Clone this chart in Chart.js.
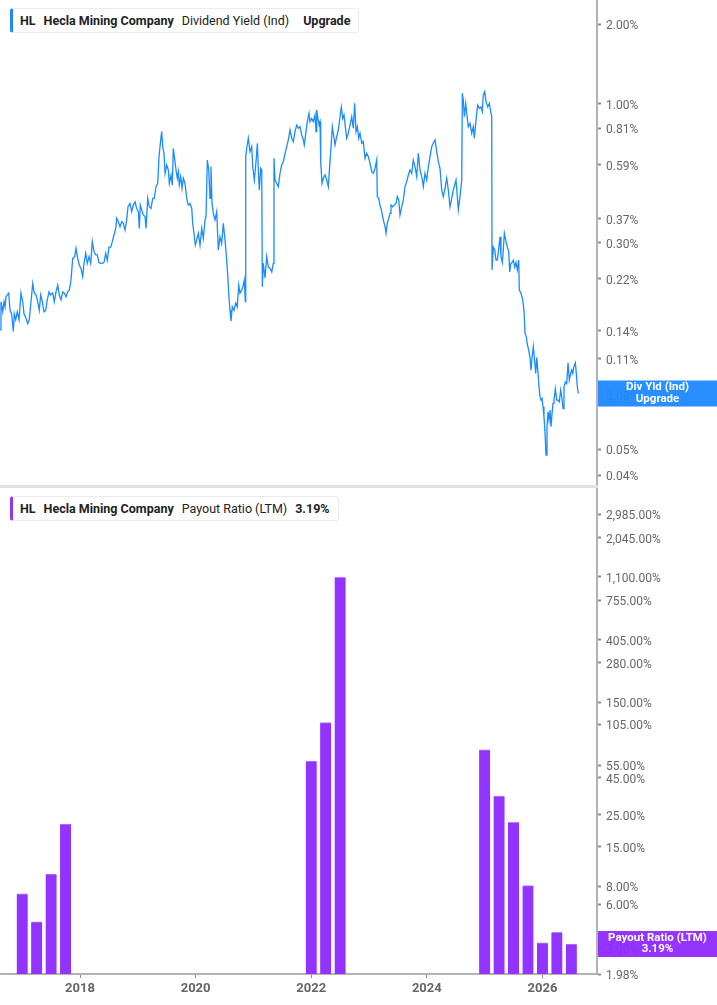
<!DOCTYPE html>
<html>
<head>
<meta charset="utf-8">
<script src="https://cdn.jsdelivr.net/npm/chart.js@4.4.1/dist/chart.umd.min.js"></script>
<style>
  body { margin: 0; background: #fff; font-family: Roboto, sans-serif; }
  #wrap { position: relative; width: 717px; height: 1005px; overflow: hidden; }
  canvas { position: absolute; left: 0; }
  #yieldChart { top: 0; }
  #payoutChart { top: 487px; }
  .sep { position: absolute; left: 0; top: 485px; width: 598px; height: 3px; background: #e2e2e2; }
  .legend {
    position: absolute; left: 10px; height: 23px; display: flex; align-items: center;
    padding: 0 8px 0 7px; border: 1px solid #ececec; border-left: 3px solid; border-radius: 3px;
    background: #fff; font-size: 12.5px; color: #222; white-space: nowrap;
  }
  .legend b { font-weight: 700; }
  .legend .g { margin-left: 8px; }
  .legend .g2 { margin-left: 14px; }
</style>
</head>
<body>
<div id="wrap">
  <canvas id="yieldChart" width="717" height="487"></canvas>
  <canvas id="payoutChart" width="717" height="518"></canvas>
  <div class="sep"></div>
  <div class="legend" style="top:8px; border-left-color:#1e88ff;">
    <b>HL</b><b class="g">Hecla Mining Company</b><span class="g">Dividend Yield (Ind)</span><b class="g2">Upgrade</b>
  </div>
  <div class="legend" style="top:496px; border-left-color:#9333ff;">
    <b>HL</b><b class="g">Hecla Mining Company</b><span class="g">Payout Ratio (LTM)</span><b class="g">3.19%</b>
  </div>
</div>
<script>
// dividend yield (%) - dates as decimal years
const divYears = [
  2016.616, 2016.633, 2016.663, 2016.685, 2016.703, 2016.720, 2016.742, 2016.767, 2016.789, 2016.818,
  2016.846, 2016.863, 2016.888, 2016.915, 2016.945, 2016.979, 2017.009, 2017.031, 2017.066, 2017.095,
  2017.123, 2017.152, 2017.182, 2017.209, 2017.239, 2017.268, 2017.296, 2017.320, 2017.348, 2017.377,
  2017.407, 2017.434, 2017.464, 2017.493, 2017.528, 2017.555, 2017.585, 2017.614, 2017.642, 2017.671,
  2017.701, 2017.728, 2017.758, 2017.787, 2017.815, 2017.844, 2017.874, 2017.908, 2017.931, 2017.960,
  2017.988, 2018.017, 2018.047, 2018.069, 2018.099, 2018.126, 2018.156, 2018.185, 2018.213, 2018.242,
  2018.272, 2018.299, 2018.329, 2018.358, 2018.386, 2018.415, 2018.445, 2018.472, 2018.502, 2018.531,
  2018.559, 2018.588, 2018.618, 2018.635, 2018.663, 2018.692, 2018.722, 2018.749, 2018.779, 2018.808,
  2018.830, 2018.865, 2018.894, 2018.922, 2018.952, 2018.981, 2019.009, 2019.026, 2019.043, 2019.067,
  2019.095, 2019.125, 2019.142, 2019.171, 2019.199, 2019.228, 2019.258, 2019.285, 2019.315, 2019.344,
  2019.367, 2019.396, 2019.413, 2019.431, 2019.453, 2019.471, 2019.500, 2019.528, 2019.545, 2019.574,
  2019.597, 2019.614, 2019.632, 2019.661, 2019.683, 2019.701, 2019.718, 2019.742, 2019.765, 2019.787,
  2019.817, 2019.846, 2019.874, 2019.903, 2019.933, 2019.950, 2019.972, 2019.995, 2020.019, 2020.047,
  2020.076, 2020.106, 2020.133, 2020.163, 2020.180, 2020.203, 2020.227, 2020.249, 2020.266, 2020.284,
  2020.306, 2020.336, 2020.365, 2020.393, 2020.422, 2020.451, 2020.479, 2020.509, 2020.538, 2020.555,
  2020.578, 2020.595, 2020.612, 2020.635, 2020.664, 2020.694, 2020.721, 2020.746, 2020.768, 2020.798,
  2020.825, 2020.843, 2020.860, 2020.867, 2020.884, 2020.912, 2020.941, 2020.971, 2020.988, 2021.016,
  2021.045, 2021.068, 2021.085, 2021.102, 2021.126, 2021.144, 2021.154, 2021.171, 2021.201, 2021.230,
  2021.258, 2021.287, 2021.317, 2021.344, 2021.356, 2021.374, 2021.403, 2021.431, 2021.460, 2021.489,
  2021.517, 2021.547, 2021.576, 2021.604, 2021.633, 2021.663, 2021.690, 2021.720, 2021.749, 2021.777,
  2021.806, 2021.836, 2021.863, 2021.880, 2021.910, 2021.932, 2021.962, 2021.979, 2022.008, 2022.036,
  2022.066, 2022.083, 2022.095, 2022.112, 2022.135, 2022.152, 2022.164, 2022.187, 2022.209, 2022.239,
  2022.268, 2022.296, 2022.313, 2022.337, 2022.365, 2022.382, 2022.412, 2022.441, 2022.469, 2022.498,
  2022.521, 2022.545, 2022.567, 2022.590, 2022.614, 2022.642, 2022.671, 2022.701, 2022.728, 2022.752,
  2022.775, 2022.797, 2022.822, 2022.844, 2022.874, 2022.901, 2022.931, 2022.960, 2022.988, 2023.017,
  2023.047, 2023.074, 2023.104, 2023.133, 2023.143, 2023.168, 2023.190, 2023.220, 2023.247, 2023.277,
  2023.294, 2023.316, 2023.341, 2023.363, 2023.380, 2023.410, 2023.437, 2023.467, 2023.489, 2023.514,
  2023.536, 2023.565, 2023.593, 2023.623, 2023.652, 2023.680, 2023.709, 2023.739, 2023.766, 2023.796,
  2023.825, 2023.853, 2023.882, 2023.912, 2023.939, 2023.969, 2023.998, 2024.026, 2024.055, 2024.085,
  2024.112, 2024.142, 2024.171, 2024.199, 2024.228, 2024.258, 2024.285, 2024.315, 2024.344, 2024.372,
  2024.401, 2024.458, 2024.505, 2024.545, 2024.574, 2024.604, 2024.614, 2024.631, 2024.649, 2024.673,
  2024.690, 2024.718, 2024.747, 2024.777, 2024.804, 2024.821, 2024.846, 2024.863, 2024.880, 2024.908,
  2024.937, 2024.960, 2024.977, 2025.001, 2025.024, 2025.053, 2025.081, 2025.105, 2025.123, 2025.128,
  2025.150, 2025.175, 2025.197, 2025.220, 2025.244, 2025.266, 2025.283, 2025.306, 2025.323, 2025.341,
  2025.365, 2025.393, 2025.417, 2025.434, 2025.452, 2025.474, 2025.497, 2025.521, 2025.543, 2025.566,
  2025.590, 2025.600, 2025.629, 2025.659, 2025.681, 2025.699, 2025.721, 2025.738, 2025.763, 2025.785,
  2025.803, 2025.820, 2025.843, 2025.867, 2025.884, 2025.901, 2025.924, 2025.941, 2025.958, 2025.976,
  2025.993, 2026.010, 2026.027, 2026.045, 2026.062, 2026.079, 2026.097, 2026.114, 2026.131, 2026.149,
  2026.166, 2026.183, 2026.200, 2026.223, 2026.247, 2026.269, 2026.292, 2026.316, 2026.334, 2026.356,
  2026.373, 2026.396, 2026.420, 2026.443, 2026.465, 2026.489, 2026.507, 2026.524, 2026.546, 2026.569,
  2026.586, 2026.603, 2026.621
];
const divYield = [
  0.141, 0.180, 0.165, 0.180, 0.172, 0.188, 0.191, 0.194, 0.167, 0.162,
  0.139, 0.162, 0.154, 0.165, 0.154, 0.194, 0.180, 0.162, 0.156, 0.149,
  0.154, 0.180, 0.211, 0.194, 0.191, 0.180, 0.167, 0.191, 0.180, 0.165,
  0.167, 0.183, 0.196, 0.191, 0.194, 0.180, 0.196, 0.208, 0.191, 0.183,
  0.196, 0.194, 0.188, 0.196, 0.199, 0.217, 0.262, 0.266, 0.286, 0.262,
  0.247, 0.240, 0.224, 0.251, 0.274, 0.251, 0.266, 0.251, 0.303, 0.278,
  0.270, 0.270, 0.253, 0.251, 0.251, 0.253, 0.274, 0.258, 0.289, 0.289,
  0.303, 0.321, 0.340, 0.371, 0.360, 0.345, 0.360, 0.355, 0.335, 0.366,
  0.410, 0.422, 0.393, 0.416, 0.428, 0.404, 0.393, 0.340, 0.416, 0.399,
  0.382, 0.377, 0.340, 0.441, 0.410, 0.404, 0.441, 0.441, 0.488, 0.502,
  0.633, 0.732, 0.787, 0.691, 0.652, 0.548, 0.589, 0.564, 0.502, 0.540,
  0.495, 0.681, 0.633, 0.564, 0.525, 0.556, 0.495, 0.533, 0.481, 0.525,
  0.502, 0.441, 0.416, 0.422, 0.404, 0.355, 0.326, 0.294, 0.307, 0.326,
  0.294, 0.340, 0.312, 0.366, 0.377, 0.615, 0.564, 0.441, 0.580, 0.422,
  0.387, 0.366, 0.393, 0.282, 0.316, 0.298, 0.355, 0.307, 0.258, 0.227,
  0.186, 0.167, 0.152, 0.172, 0.167, 0.178, 0.172, 0.208, 0.194, 0.199,
  0.208, 0.217, 0.180, 0.633, 0.681, 0.743, 0.661, 0.691, 0.580, 0.517,
  0.606, 0.711, 0.564, 0.474, 0.572, 0.564, 0.205, 0.251, 0.221, 0.266,
  0.243, 0.240, 0.233, 0.251, 0.624, 0.517, 0.502, 0.488, 0.548, 0.589,
  0.606, 0.652, 0.691, 0.732, 0.798, 0.743, 0.722, 0.787, 0.833, 0.810,
  0.821, 0.764, 0.732, 0.701, 0.787, 0.857, 0.922, 0.857, 0.882, 0.857,
  0.909, 0.787, 0.949, 0.895, 0.833, 0.857, 0.606, 0.502, 0.525, 0.540,
  0.517, 0.488, 0.556, 0.661, 0.821, 0.776, 0.701, 0.753, 0.798, 0.895,
  0.974, 0.882, 0.909, 0.821, 0.743, 0.776, 0.833, 0.895, 0.810, 1.005,
  0.787, 0.821, 0.743, 0.776, 0.711, 0.722, 0.624, 0.652, 0.633, 0.597,
  0.556, 0.548, 0.572, 0.615, 0.448, 0.441, 0.416, 0.393, 0.366, 0.345,
  0.326, 0.355, 0.371, 0.387, 0.416, 0.410, 0.416, 0.422, 0.448, 0.435,
  0.382, 0.410, 0.435, 0.488, 0.510, 0.540, 0.564, 0.548, 0.615, 0.580,
  0.533, 0.652, 0.564, 0.533, 0.488, 0.548, 0.517, 0.580, 0.633, 0.691,
  0.711, 0.732, 0.661, 0.606, 0.572, 0.474, 0.448, 0.481, 0.525, 0.474,
  0.410, 0.474, 0.517, 0.399, 0.448, 0.517, 1.097, 1.034, 0.895, 1.005,
  0.922, 0.821, 0.845, 0.776, 0.821, 0.743, 0.845, 0.922, 0.991, 0.962,
  0.974, 0.935, 1.080, 1.113, 1.020, 0.974, 1.005, 0.935, 0.895, 0.237,
  0.289, 0.282, 0.258, 0.258, 0.286, 0.316, 0.266, 0.253, 0.282, 0.326,
  0.307, 0.289, 0.278, 0.233, 0.251, 0.253, 0.258, 0.243, 0.253, 0.237,
  0.258, 0.199, 0.194, 0.183, 0.167, 0.137, 0.133, 0.125, 0.118, 0.111,
  0.0995, 0.111, 0.122, 0.106, 0.0967, 0.111, 0.0967, 0.0861, 0.0790, 0.0767,
  0.0778, 0.0723, 0.0664, 0.0576, 0.0476, 0.0609, 0.0693, 0.0645, 0.0703, 0.0609,
  0.0683, 0.0745, 0.0767, 0.0846, 0.0767, 0.0767, 0.0756, 0.0837, 0.0790, 0.0713,
  0.0861, 0.0898, 0.0885, 0.106, 0.0912, 0.0967, 0.0995, 0.0967, 0.103, 0.106,
  0.0967, 0.0861, 0.0812
];

// quarterly payout ratio (LTM, %)
const payoutYears = [2017.0, 2017.25, 2017.5, 2017.75, 2022.0, 2022.25, 2022.5,
                     2025.0, 2025.25, 2025.5, 2025.75, 2026.0, 2026.25, 2026.5];
const payoutRatio = [7.1, 4.55, 9.7, 21.5, 58.7, 108, 1090,
                     70, 33.6, 22.1, 8.1, 3.25, 3.85, 3.19];

const yieldTicks = [0.04, 0.05, 0.08, 0.11, 0.14, 0.22, 0.30, 0.37, 0.59, 0.81, 1.00, 2.00];
const payoutTicks = [1.98, 3, 6, 8, 15, 25, 45, 55, 105, 150, 280, 405, 755, 1100, 2045, 2985];
const yearTicks = [2018, 2020, 2022, 2024, 2026];

const xMin = 2016.616, xMax = 2026.944;
const blue = '#1a8cff';
const purple = '#9333ff';

// tag drawn on the right axis at the last value
const lastValueTag = {
    id: 'lastValueTag',
    afterDraw(chart, args, opts) {
        const ctx = chart.ctx;
        const area = chart.chartArea;
        const y = chart.scales.y.getPixelForValue(opts.value);
        const x0 = area.right + 1;
        const w = chart.width - x0;
        ctx.save();
        ctx.fillStyle = opts.color;
        ctx.fillRect(x0, y - 13, w, 26);
        ctx.fillStyle = '#fff';
        ctx.font = 'bold 11.5px Roboto';
        ctx.textAlign = 'center';
        ctx.textBaseline = 'middle';
        ctx.fillText(opts.lines[0], x0 + w / 2, y - 6);
        ctx.fillText(opts.lines[1], x0 + w / 2, y + 5.5);
        ctx.restore();
    }
};

function rightAxis(min, max, tickValues, fmt) {
    return {
        type: 'logarithmic',
        position: 'right',
        min: min,
        max: max,
        bounds: 'data',
        afterBuildTicks: scale => { scale.ticks = tickValues.map(v => ({ value: v })); },
        afterFit: scale => { scale.width = 120; scale.paddingTop = 0; scale.paddingBottom = 0; },
        border: { display: true, color: '#b3b3b3', width: 2 },
        grid: { drawOnChartArea: false, drawTicks: true, tickLength: 4, tickWidth: 2, color: '#8c8c8c' },
        ticks: {
            autoSkip: false,
            padding: 5,
            labelOffset: 2,
            color: '#666',
            font: { family: 'Roboto', size: 12 },
            callback: v => fmt(v)
        }
    };
}

new Chart(document.getElementById('yieldChart'), {
    type: 'line',
    data: {
        datasets: [{
            label: 'Dividend Yield (Ind)',
            data: divYears.map((yr, i) => ({ x: yr, y: divYield[i] })),
            borderColor: blue,
            borderWidth: 1.3,
            pointRadius: 0,
            tension: 0
        }]
    },
    options: {
        responsive: false,
        animation: false,
        layout: { padding: 0 },
        plugins: {
            legend: { display: false },
            tooltip: { enabled: false },
            lastValueTag: { value: divYield[divYield.length - 1], color: 'rgba(30,136,255,0.95)', lines: ['Div Yld (Ind)', 'Upgrade'] }
        },
        scales: {
            x: { type: 'linear', min: xMin, max: xMax, display: false },
            y: rightAxis(0.0361, 2.463, yieldTicks, v => v.toFixed(2) + '%')
        }
    },
    plugins: [lastValueTag]
});

new Chart(document.getElementById('payoutChart'), {
    type: 'bar',
    data: {
        datasets: [{
            label: 'Payout Ratio (LTM)',
            data: payoutYears.map((yr, i) => ({ x: yr, y: payoutRatio[i] })),
            backgroundColor: purple,
            borderColor: '#b57dff',
            borderWidth: { top: 1, left: 0, right: 0, bottom: 0 },
            barThickness: 11
        }]
    },
    options: {
        responsive: false,
        animation: false,
        layout: { padding: 0 },
        plugins: {
            legend: { display: false },
            tooltip: { enabled: false },
            lastValueTag: { value: payoutRatio[payoutRatio.length - 1], color: 'rgba(143,40,255,0.95)', lines: ['Payout Ratio (LTM)', '3.19%'] }
        },
        scales: {
            x: {
                type: 'linear',
                min: xMin,
                max: xMax,
                offset: false,
                afterBuildTicks: scale => { scale.ticks = yearTicks.map(v => ({ value: v })); },
                afterFit: scale => { scale.height = 31; scale.paddingLeft = 0; scale.paddingRight = 0; },
                border: { display: true, color: '#b3b3b3', width: 2 },
                grid: { offset: false, drawOnChartArea: false, tickLength: 4, color: '#8c8c8c' },
                ticks: {
                    autoSkip: false,
                    maxRotation: 0,
                    padding: 3,
                    color: '#666',
                    font: { family: 'Roboto', size: 13, weight: 'bold' },
                    callback: v => String(v)
                }
            },
            y: rightAxis(1.98, 4594, payoutTicks,
                v => v.toLocaleString('en-US', { minimumFractionDigits: 2, maximumFractionDigits: 2 }) + '%')
        }
    },
    plugins: [lastValueTag]
});
</script>
</body>
</html>
